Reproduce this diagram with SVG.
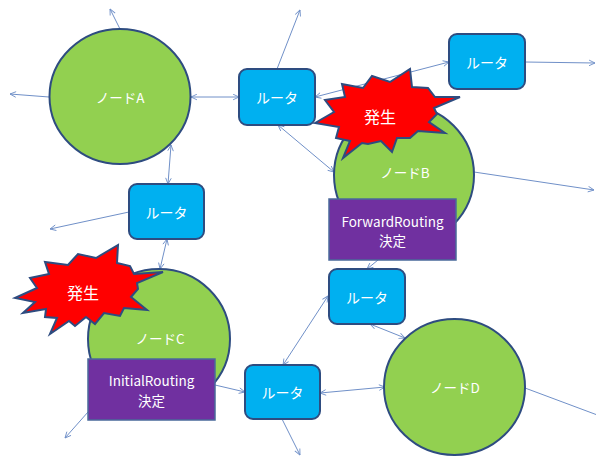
<svg xmlns="http://www.w3.org/2000/svg" width="596" height="457" viewBox="0 0 596 457">
<style>
.ln{stroke:#7090C8;stroke-width:1;fill:none}
.node{fill:#92D050;stroke:#2E4C80;stroke-width:2}
.rt{fill:#00B0F0;stroke:#2E4C80;stroke-width:2}
.dec{fill:#7030A0;stroke:#4A6A9A;stroke-width:1.5}
.star{fill:#FF0000;stroke:#2E4C80;stroke-width:2;stroke-linejoin:miter}
text{font-family:"Noto Sans CJK JP","Noto Sans",sans-serif;fill:#FFFFFF;text-anchor:middle;dominant-baseline:central}
.t13{font-size:13.5px}
.t14{font-size:14px}
.t15{font-size:16px}
</style>
<defs>
<marker id="arr" viewBox="0 0 10 10" refX="9.5" refY="5" markerWidth="7" markerHeight="7" markerUnits="userSpaceOnUse" orient="auto-start-reverse">
<path d="M1,1 L9.5,5 L1,9" fill="none" stroke="#7090C8" stroke-width="1.3"/>
</marker>
</defs>
<rect width="596" height="457" fill="#FFFFFF"/>
<g id="connectors">
<line class="ln" x1="120" y1="29" x2="110" y2="9" marker-end="url(#arr)"/>
<line class="ln" x1="49" y1="97" x2="10" y2="94" marker-end="url(#arr)"/>
<line class="ln" x1="191" y1="97" x2="239" y2="97" marker-start="url(#arr)" marker-end="url(#arr)"/>
<line class="ln" x1="171" y1="145" x2="168" y2="184" marker-start="url(#arr)" marker-end="url(#arr)"/>
<line class="ln" x1="277" y1="69" x2="300" y2="10" marker-end="url(#arr)"/>
<line class="ln" x1="315" y1="97" x2="449" y2="62" marker-start="url(#arr)" marker-end="url(#arr)"/>
<line class="ln" x1="278" y1="125" x2="334" y2="172" marker-start="url(#arr)" marker-end="url(#arr)"/>
<line class="ln" x1="525" y1="62" x2="595" y2="63" marker-end="url(#arr)"/>
<line class="ln" x1="474" y1="172" x2="594" y2="190" marker-end="url(#arr)"/>
<line class="ln" x1="129" y1="212" x2="50" y2="229" marker-end="url(#arr)"/>
<line class="ln" x1="167" y1="239" x2="160" y2="269" marker-start="url(#arr)" marker-end="url(#arr)"/>
<line class="ln" x1="378" y1="260" x2="367" y2="269" marker-end="url(#arr)"/>
<line class="ln" x1="283" y1="365" x2="328" y2="296" marker-start="url(#arr)" marker-end="url(#arr)"/>
<line class="ln" x1="370" y1="324" x2="405" y2="338" marker-start="url(#arr)" marker-end="url(#arr)"/>
<line class="ln" x1="320" y1="393" x2="385" y2="387" marker-start="url(#arr)" marker-end="url(#arr)"/>
<line class="ln" x1="215" y1="385" x2="245" y2="392" marker-end="url(#arr)"/>
<line class="ln" x1="88" y1="412" x2="65" y2="438" marker-end="url(#arr)"/>
<line class="ln" x1="282" y1="419" x2="300" y2="455" marker-end="url(#arr)"/>
<line class="ln" x1="525" y1="388" x2="600" y2="416"/>
</g>
<g id="nodeA">
<ellipse class="node" cx="120" cy="96.5" rx="70.5" ry="67.5"/>
<text class="t13" x="120" y="97">ノードA</text>
</g>
<g id="nodeB">
<ellipse class="node" cx="404" cy="175" rx="70" ry="70"/>
<text class="t13" x="405" y="172">ノードB</text>
</g>
<g id="nodeC">
<ellipse class="node" cx="159" cy="339" rx="71" ry="70"/>
<text class="t13" x="160" y="338">ノードC</text>
</g>
<g id="nodeD">
<ellipse class="node" cx="454.5" cy="387" rx="70.5" ry="68"/>
<text class="t13" x="455" y="387">ノードD</text>
</g>
<g id="router1">
<rect class="rt" x="239" y="69" width="76" height="56" rx="8"/>
<text class="t14" x="277" y="97">ルータ</text>
</g>
<g id="router2">
<rect class="rt" x="129" y="184" width="75" height="55" rx="8"/>
<text class="t14" x="166.5" y="211.5">ルータ</text>
</g>
<g id="router3">
<rect class="rt" x="449" y="34" width="76" height="55" rx="8"/>
<text class="t14" x="487" y="61.5">ルータ</text>
</g>
<g id="router4">
<rect class="rt" x="329" y="269" width="76" height="55" rx="8"/>
<text class="t14" x="367" y="296.5">ルータ</text>
</g>
<g id="router5">
<rect class="rt" x="245" y="365" width="75" height="54" rx="8"/>
<text class="t14" x="282.5" y="392">ルータ</text>
</g>
<g id="forwardRouting">
<rect class="dec" x="329" y="199" width="127" height="61"/>
<text class="t13" x="392.5" y="221">ForwardRouting</text>
<text class="t13" x="392.5" y="240">決定</text>
</g>
<g id="initialRouting">
<rect class="dec" x="88" y="359" width="127" height="61"/>
<text class="t13" x="151.5" y="380">InitialRouting</text>
<text class="t13" x="151.5" y="400">決定</text>
</g>
<g id="burst1">
<polygon class="star" points="315,123 334,112 325,100 345,97 342,84 363,88 372,76 390,82 410,69 412,87 428,88 435,97 460,97 434,108 437,114 429,122 445,133 418,131 410,138 397,138 392,152 381,141 368,144 362,143 343,158 350,141 336,138 339,127"/>
<text class="t15" x="380" y="116">発生</text>
</g>
<g id="burst2">
<polygon class="star" points="15,298 37,288 30,278 49,274 45,262 68,265 78,254 96,258 118,245 117,263 130,266 134,274 163,272 137,283 138,289 131,297 147,310 124,308 120,316 104,313 95,324 86,317 75,326 69,321 50,334 57,318 45,317 46,309 23,313 35,302"/>
<text class="t15" x="83" y="292">発生</text>
</g>
</svg>
